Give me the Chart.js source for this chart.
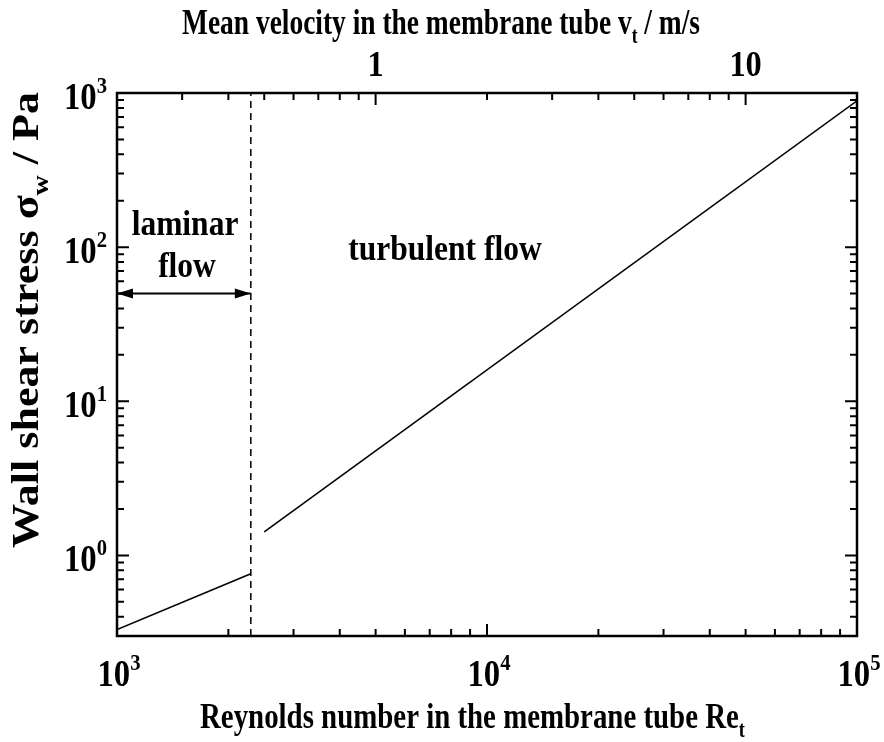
<!DOCTYPE html>
<html>
<head>
<meta charset="utf-8">
<script src="https://cdn.jsdelivr.net/npm/chart.js@4.4.0/dist/chart.umd.min.js"></script>
<style>
  html, body { margin: 0; padding: 0; background: #fff; }
  canvas { display: block; }
</style>
</head>
<body>
<canvas id="shearChart" width="884" height="742"></canvas>
<script>
// Axis ranges
const reRange = [1000, 100000];     // Reynolds number (bottom)
const velRange = [0.2, 20];         // mean velocity m/s (top)
const tauRange = [0.3, 1000];       // wall shear stress Pa (left)

// Curves
const laminarRe = [1000, 2300];
const laminarTau = [0.33, 0.76];
const turbulentRe = [2500, 100000];
const turbulentTau = [1.42, 890];

// Transition marker and arrow height
const transitionRe = 2300;
const arrowTau = 50;

// Tick labels
const bottomTicks = [1000, 10000, 100000];
const bottomTickExp = ['3', '4', '5'];
const leftTicks = [1, 10, 100, 1000];
const leftTickExp = ['0', '1', '2', '3'];
const topTicks = [1, 10];
const topTickLabels = ['1', '10'];

const SERIF = '"Liberation Serif", "Times New Roman", serif';

function pts(xs, ys) {
  return xs.map((x, i) => ({ x: x, y: ys[i] }));
}

// all 1..9 x 10^n values inside [min, max]
function logTickValues(min, max) {
  const out = [];
  for (let d = Math.floor(Math.log10(min)); d <= Math.ceil(Math.log10(max)); d++) {
    for (let m = 1; m <= 9; m++) {
      const v = m * Math.pow(10, d);
      if (v >= min * 0.9999 && v <= max * 1.0001) out.push({ v: v, major: m === 1 });
    }
  }
  return out;
}

function partsWidth(ctx, parts, size) {
  const big = 'bold ' + size + 'px ' + SERIF;
  const small = 'bold ' + Math.round(size * 0.64) + 'px ' + SERIF;
  let w = 0;
  parts.forEach(p => { ctx.font = (p.sub || p.sup) ? small : big; w += ctx.measureText(p.t).width; });
  return w;
}

// parts: [{t, sub, sup}], squeezed horizontally by sx
function drawParts(ctx, parts, x, y, size, sx, align, angle) {
  const big = 'bold ' + size + 'px ' + SERIF;
  const small = 'bold ' + Math.round(size * 0.64) + 'px ' + SERIF;
  const w = partsWidth(ctx, parts, size);
  ctx.save();
  ctx.translate(x, y);
  ctx.rotate(angle || 0);
  ctx.scale(sx, 1);
  ctx.textAlign = 'left';
  ctx.textBaseline = 'alphabetic';
  let cx = 0;
  if (align === 'center') cx = -w / 2;
  if (align === 'right') cx = -w;
  parts.forEach(p => {
    ctx.font = (p.sub || p.sup) ? small : big;
    const dy = p.sub ? size * 0.26 : (p.sup ? -size * 0.42 : 0);
    ctx.fillText(p.t, cx, dy);
    cx += ctx.measureText(p.t).width;
  });
  ctx.restore();
}

// squeezed to a given total width
function drawFit(ctx, parts, x, y, size, width, angle) {
  drawParts(ctx, parts, x, y, size, width / partsWidth(ctx, parts, size), 'left', angle);
}

const framePlugin = {
  id: 'frame',
  afterDraw(chart) {
    const ctx = chart.ctx;
    const a = chart.chartArea;
    const sx = chart.scales.x, sx2 = chart.scales.x2, sy = chart.scales.y;
    ctx.save();
    ctx.strokeStyle = '#000';
    ctx.fillStyle = '#000';

    // tick marks pointing inward
    ctx.lineWidth = 2;
    ctx.beginPath();
    logTickValues(reRange[0], reRange[1]).forEach(t => {
      const px = sx.getPixelForValue(t.v);
      const len = t.major ? 12 : 7;
      ctx.moveTo(px, a.bottom); ctx.lineTo(px, a.bottom - len);
    });
    logTickValues(velRange[0], velRange[1]).forEach(t => {
      const px = sx2.getPixelForValue(t.v);
      const len = t.major ? 12 : 7;
      ctx.moveTo(px, a.top); ctx.lineTo(px, a.top + len);
    });
    logTickValues(tauRange[0], tauRange[1]).forEach(t => {
      const py = sy.getPixelForValue(t.v);
      const len = t.major ? 12 : 7;
      ctx.moveTo(a.left, py); ctx.lineTo(a.left + len, py);
      ctx.moveTo(a.right, py); ctx.lineTo(a.right - len, py);
    });
    ctx.stroke();

    // frame
    ctx.lineWidth = 2.5;
    ctx.strokeRect(a.left, a.top, a.right - a.left, a.bottom - a.top);

    // arrow heads on the laminar span
    const ay = sy.getPixelForValue(arrowTau);
    const lx = sx.getPixelForValue(reRange[0]);
    const rx = sx.getPixelForValue(transitionRe);
    ctx.beginPath();
    ctx.moveTo(lx, ay); ctx.lineTo(lx + 16, ay - 5); ctx.lineTo(lx + 16, ay + 5); ctx.closePath();
    ctx.moveTo(rx, ay); ctx.lineTo(rx - 16, ay - 5); ctx.lineTo(rx - 16, ay + 5); ctx.closePath();
    ctx.fill();

    // tick labels
    bottomTicks.forEach((v, i) => drawParts(ctx, [{ t: '10' }, { t: bottomTickExp[i], sup: true }],
      sx.getPixelForValue(v) + 2, a.bottom + 50, 38, 0.86, 'center'));
    leftTicks.forEach((v, i) => drawParts(ctx, [{ t: '10' }, { t: leftTickExp[i], sup: true }],
      a.left - 10, sy.getPixelForValue(v) + 16, 38, 0.86, 'right'));
    topTicks.forEach((v, i) => drawParts(ctx, [{ t: topTickLabels[i] }],
      sx2.getPixelForValue(v), a.top - 17, 36, 0.9, 'center'));

    // annotations
    drawParts(ctx, [{ t: 'laminar' }], 185, 235, 35, 0.9, 'center');
    drawParts(ctx, [{ t: 'flow' }], 187, 277, 35, 0.9, 'center');
    drawParts(ctx, [{ t: 'turbulent flow' }], 445, 260, 35, 0.9, 'center');

    // axis titles
    drawFit(ctx, [{ t: 'Mean velocity in the membrane tube v' }, { t: 't', sub: true }, { t: ' / m/s' }], 182, 34, 36, 518, 0);
    drawFit(ctx, [{ t: 'Reynolds number in the membrane tube Re' }, { t: 't', sub: true }], 200, 728, 36, 545, 0);
    drawFit(ctx, [{ t: 'Wall shear stress \u03c3' }, { t: 'w', sub: true }, { t: ' / Pa' }], 38, 548, 38, 456, -Math.PI / 2);

    ctx.restore();
  }
};

const ctx = document.getElementById('shearChart').getContext('2d');

const lineStyle = { borderColor: '#000', borderWidth: 1.6, pointRadius: 0, fill: false, tension: 0 };

new Chart(ctx, {
  type: 'line',
  data: {
    datasets: [
      Object.assign({ label: 'laminar', data: pts(laminarRe, laminarTau) }, lineStyle),
      Object.assign({ label: 'turbulent', data: pts(turbulentRe, turbulentTau) }, lineStyle),
      Object.assign({ label: 'transition', data: pts([transitionRe, transitionRe], tauRange), borderDash: [7, 5] }, lineStyle, { borderWidth: 1.5 }),
      Object.assign({ label: 'arrow', data: pts([reRange[0], transitionRe], [arrowTau, arrowTau]) }, lineStyle, { borderWidth: 2 })
    ]
  },
  options: {
    responsive: false,
    animation: false,
    devicePixelRatio: 1,
    layout: { padding: { left: 117, right: 27, top: 93, bottom: 106 } },
    plugins: { legend: { display: false }, tooltip: { enabled: false } },
    scales: {
      x: {
        type: 'logarithmic', position: 'bottom', min: reRange[0], max: reRange[1],
        grid: { display: false, drawTicks: false }, border: { display: false }, ticks: { display: false }
      },
      x2: {
        type: 'logarithmic', position: 'top', min: velRange[0], max: velRange[1],
        grid: { display: false, drawTicks: false }, border: { display: false }, ticks: { display: false }
      },
      y: {
        type: 'logarithmic', position: 'left', min: tauRange[0], max: tauRange[1],
        grid: { display: false, drawTicks: false }, border: { display: false }, ticks: { display: false }
      }
    }
  },
  plugins: [framePlugin]
});
</script>
</body>
</html>
